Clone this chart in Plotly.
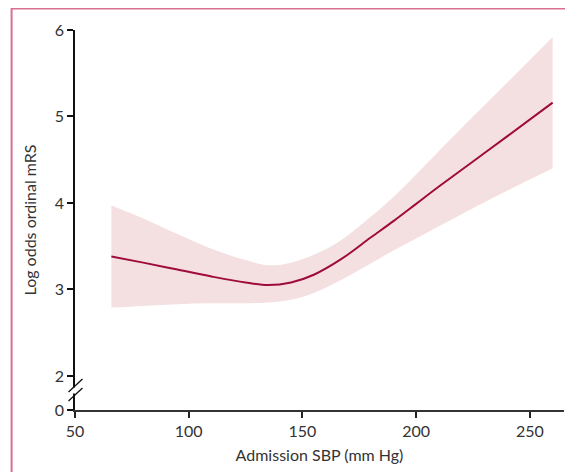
import plotly.graph_objects as go

# Data
sbp = [66, 80, 95, 110, 125, 135, 145, 155, 167, 180, 190, 200, 210, 225, 240, 260]
log_odds = [3.38, 3.31, 3.23, 3.15, 3.08, 3.05, 3.08, 3.17, 3.35, 3.60, 3.79, 3.99, 4.19, 4.48, 4.77, 5.16]
upper_ci = [3.97, 3.82, 3.64, 3.47, 3.34, 3.28, 3.31, 3.40, 3.57, 3.84, 4.07, 4.33, 4.60, 5.00, 5.39, 5.92]
lower_ci = [2.79, 2.81, 2.83, 2.84, 2.84, 2.85, 2.88, 2.96, 3.11, 3.30, 3.45, 3.59, 3.73, 3.94, 4.14, 4.40]

x_ticks = [50, 100, 150, 200, 250]
# broken axis: "0" is drawn just below 2
Y_ZERO_POS = 1.606
y_tickvals = [Y_ZERO_POS, 2, 3, 4, 5, 6]
y_ticktext = ["0", "2", "3", "4", "5", "6"]

LINE = "#9e0b3c"
FILL = "#f5e0e1"
FONT = "Lato"

fig = go.Figure()
fig.add_trace(go.Scatter(x=sbp, y=upper_ci, mode="lines", line=dict(width=0, shape="spline", smoothing=1.0),
                         hoverinfo="skip", showlegend=False))
fig.add_trace(go.Scatter(x=sbp, y=lower_ci, mode="lines", line=dict(width=0, shape="spline", smoothing=1.0),
                         fill="tonexty", fillcolor=FILL, hoverinfo="skip", showlegend=False))
fig.add_trace(go.Scatter(x=sbp, y=log_odds, mode="lines",
                         line=dict(color=LINE, width=2, shape="spline", smoothing=1.0), showlegend=False))

# page body adds an 8px offset; compensate so the figure lands where the reference is
OFF = 8
W, H = 573 - OFF, 472 - OFF
L, T = 74.5 - OFF, 30 - OFF
PW = 489.7
PH = 380
R = W - L - PW
B = H - T - PH

def px_to_paper_x(px):
    return (px - OFF - L) / PW

def px_to_paper_y(py):
    return 1 - (py - OFF - T) / PH

shapes = []
# pink frame (top and left)
fx = px_to_paper_x(11)
fy = px_to_paper_y(8.5)
shapes.append(dict(type="path", xref="paper", yref="paper",
                   path=f"M {fx} {px_to_paper_y(480)} L {fx} {fy} L {px_to_paper_x(590)} {fy}",
                   line=dict(color="#d8708f", width=2)))
# white gap in y-axis for the break
shapes.append(dict(type="line", xref="paper", yref="paper",
                   x0=0, x1=0, y0=px_to_paper_y(387.5), y1=px_to_paper_y(393.5),
                   line=dict(color="white", width=4)))
# break slashes
for (y0, y1) in [(392, 379), (401, 388)]:
    shapes.append(dict(type="line", xref="paper", yref="paper",
                       x0=px_to_paper_x(68), x1=px_to_paper_x(82),
                       y0=px_to_paper_y(y0), y1=px_to_paper_y(y1),
                       line=dict(color="#111111", width=1.3)))

fig.update_layout(
    width=W, height=H,
    margin=dict(l=L, r=R, t=T, b=B, autoexpand=False),
    paper_bgcolor="white", plot_bgcolor="white",
    font=dict(family=FONT, size=16, color="#333333"),
    shapes=shapes,
    xaxis=dict(range=[50, 265], tickvals=x_ticks, showgrid=False, zeroline=False, automargin=False,
               showline=True, linecolor="#333333", linewidth=1.5,
               ticks="outside", ticklen=6, tickwidth=1.5, tickcolor="#222222",
               tickfont=dict(size=16, color="#333333"),
               title=dict(text="Admission SBP (mm Hg)", font=dict(size=16, color="#333333"), standoff=11)),
    yaxis=dict(range=[Y_ZERO_POS, 6], tickvals=y_tickvals, ticktext=y_ticktext,
               showgrid=False, zeroline=False, automargin=False,
               showline=True, linecolor="#111111", linewidth=1.5,
               ticks="outside", ticklen=6, tickwidth=1.5, tickcolor="#111111",
               tickfont=dict(size=16, color="#333333"),
               title=dict(text="Log odds ordinal mRS", font=dict(size=16, color="#333333"), standoff=14)),
)

fig.write_html("out.html")
